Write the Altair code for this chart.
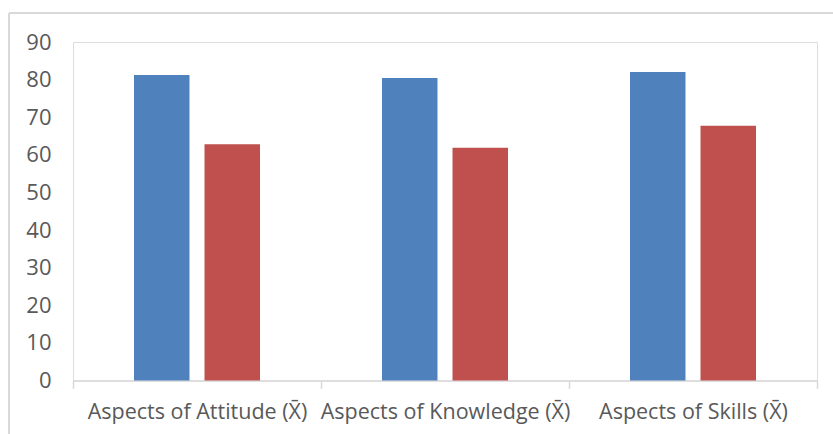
import altair as alt
import pandas as pd

categories = ["Aspects of Attitude (X\u0304)", "Aspects of Knowledge (X\u0304)", "Aspects of Skills (X\u0304)"]
series_names = ["Series 1", "Series 2"]
series1 = [81.2, 80.4, 82.0]
series2 = [62.8, 61.9, 67.7]
colors = ["#4F81BD", "#C0504D"]

rows = []
for i, c in enumerate(categories):
    rows.append({"cat": c, "series": series_names[0], "value": series1[i]})
    rows.append({"cat": c, "series": series_names[1], "value": series2[i]})
df = pd.DataFrame(rows)

W, H = 744, 338.5
FONT = "Open Sans"

bars = alt.Chart(df).mark_bar().encode(
    x=alt.X("cat:N", sort=categories, title=None,
            scale=alt.Scale(paddingInner=0, paddingOuter=0),
            axis=alt.Axis(labelAngle=0, labelFont=FONT, labelFontSize=21.5, labelColor="#595959",
                          domainColor="#D9D9D9", domainWidth=1.5, tickColor="#D9D9D9", tickWidth=1.5,
                          tickSize=8, tickBand="extent", labelPadding=13, labelLimit=300)),
    xOffset=alt.XOffset("series:N", sort=series_names,
                        scale=alt.Scale(paddingInner=0.213, paddingOuter=0.865)),
    y=alt.Y("value:Q", title=None,
            scale=alt.Scale(domain=[0, 90], nice=False),
            axis=alt.Axis(values=list(range(0, 91, 10)), grid=False, domain=False, ticks=False,
                          tickSize=0, labelPadding=22, labelFont=FONT, labelFontSize=22,
                          labelColor="#595959")),
    color=alt.Color("series:N", sort=series_names,
                    scale=alt.Scale(domain=series_names, range=colors), legend=None),
)

frame_top = alt.Chart(df).mark_rule(color="#D9D9D9", strokeWidth=1.5).encode(
    x=alt.value(-64), x2=alt.value(760), y=alt.value(-29))
frame_left = alt.Chart(df).mark_rule(color="#D9D9D9", strokeWidth=1.5).encode(
    x=alt.value(-64), y=alt.value(-29), y2=alt.value(392))

chart = alt.layer(frame_top, frame_left, bars).properties(
    width=W, height=H,
    padding={"left": 73, "top": 42, "right": 16, "bottom": 53.5},
    autosize=alt.AutoSizeParams(type="none"),
).configure_view(stroke=None, strokeWidth=0).configure(background="white")

chart.save("out.html", embed_options={"renderer": "svg", "actions": False})
